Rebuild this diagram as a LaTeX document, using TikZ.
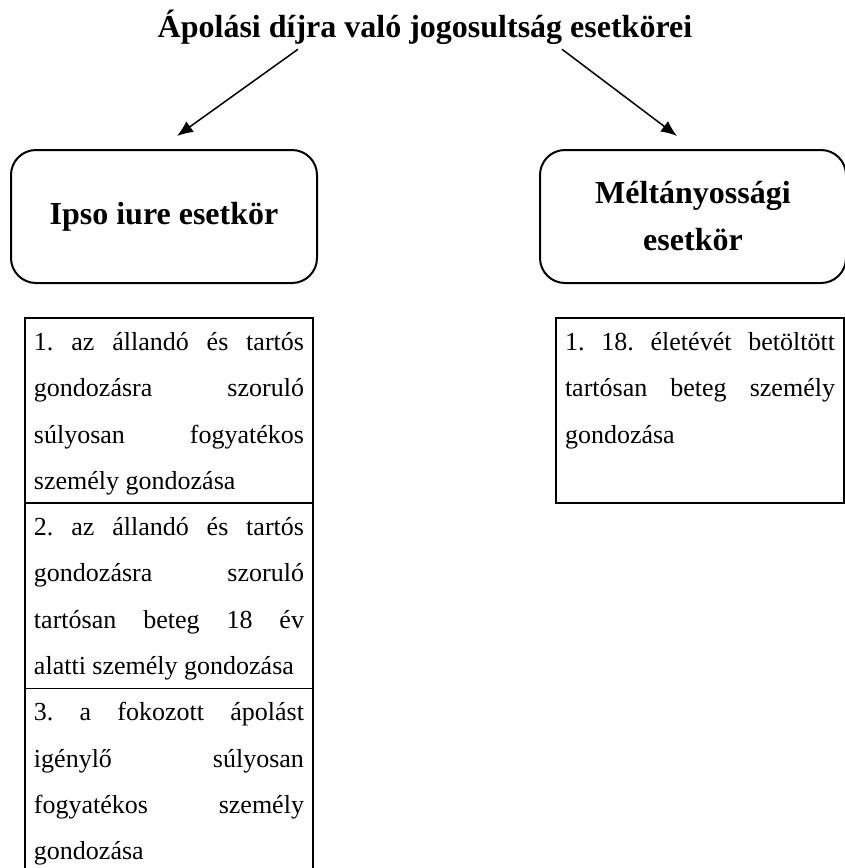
\documentclass[tikz,border=0pt]{standalone}
\usepackage{fontspec}
\setmainfont{Liberation Serif}
\usetikzlibrary{arrows.meta,positioning}
\frenchspacing
\newlength\cellw
\setlength\cellw{270pt}
% one justified line of a cell, and a last (natural) line
\newcommand{\jrow}[1]{\leavevmode\hbox to\cellw{\strut\spaceskip=0pt\xspaceskip=0pt #1}}
\newcommand{\lrow}[1]{\leavevmode\hbox to\cellw{\strut\spaceskip=0pt\xspaceskip=0pt #1\hfil}}
\tikzset{
    casebox/.style={draw,line width=2pt,rounded corners=25pt,minimum width=306pt,minimum height=133pt,align=center,font=\fontsize{32}{47}\selectfont\bfseries},
    cell/.style={draw,line width=1.5pt,outer sep=0pt,text width=\cellw,inner xsep=9pt,inner ysep=0pt,align=left,font=\fontsize{26}{46.3}\selectfont},
    arrow/.style={-{Latex[length=16pt,width=13pt]},line width=1.5pt}
}

\begin{document}
\begin{tikzpicture}[x=1pt,y=1pt]
  \useasboundingbox (0,0) rectangle (844,-868);

  % Title and the two kinds of cases
  \node[inner sep=0pt,anchor=base,font=\fontsize{32}{38}\selectfont\bfseries] (title) at (425,-37) {Ápolási díjra való jogosultság esetkörei};
  \node[casebox] (ipso) at (164,-216.5) {Ipso iure esetkör};
  \node[casebox,right=221pt of ipso] (melt) {Méltányossági\\esetkör};

  % Arrows from the title
  \draw[arrow] ([xshift=-127pt,yshift=-5pt]title.south) -- ([xshift=13pt,yshift=13pt]ipso.north);
  \draw[arrow] ([xshift=137pt,yshift=-5pt]title.south) -- ([xshift=-16pt,yshift=13pt]melt.north);

  % Ipso iure cases
  \node[cell,below=34pt of ipso,xshift=5pt] (ipso1) {\jrow{1. az állandó és tartós}\\
    \jrow{gondozásra szoruló}\\
    \jrow{súlyosan fogyatékos}\\
    \lrow{személy gondozása}};
  \node[cell,below=0pt of ipso1] (ipso2) {\jrow{2. az állandó és tartós}\\
    \jrow{gondozásra szoruló}\\
    \jrow{tartósan beteg 18 év}\\
    \lrow{alatti személy gondozása}};
  \node[cell,below=0pt of ipso2] (ipso3) {\jrow{3. a fokozott ápolást}\\
    \jrow{igénylő súlyosan}\\
    \jrow{fogyatékos személy}\\
    \lrow{gondozása}};

  % Equity case
  \node[cell,below=34pt of melt,xshift=7pt] (melt1) {\jrow{1. 18. életévét betöltött}\\
    \jrow{tartósan beteg személy}\\
    \lrow{gondozása}\\
    \lrow{}};
\end{tikzpicture}
\end{document}
